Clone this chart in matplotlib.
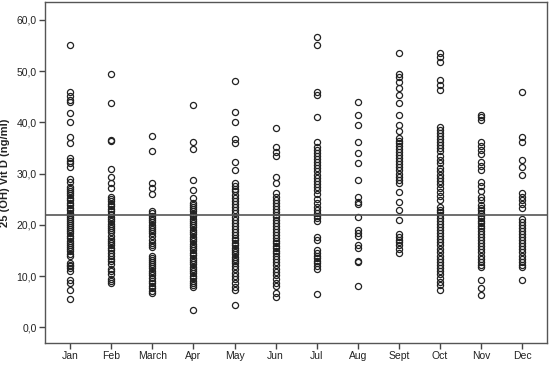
import matplotlib
matplotlib.use("Agg")
import matplotlib.pyplot as plt
from matplotlib.ticker import FuncFormatter

# 25(OH) vitamin D by month of sampling.
months = ["Jan", "Feb", "March", "Apr", "May", "Jun",
          "Jul", "Aug", "Sept", "Oct", "Nov", "Dec"]

jan = [55.1, 46.0, 45.2, 44.4, 44.0, 41.8, 40.0, 37.2, 36.0, 33.0, 32.5, 32.0,
       31.2, 29.0, 28.4, 27.3, 27.0, 26.6, 26.2, 25.8, 25.3, 24.8, 24.3, 23.8,
       23.2, 22.8, 22.3, 22.0, 21.6, 21.2, 20.8, 20.4, 20.0, 19.6, 19.2, 18.8,
       18.3, 17.8, 17.4, 16.9, 16.4, 16.0, 15.6, 15.2, 14.8, 14.3, 13.9, 12.5,
       12.2, 11.9, 11.5, 11.0, 9.2, 8.6, 7.2, 5.5]
feb = [49.4, 43.7, 36.5, 36.3, 30.8, 29.3, 28.2, 27.2, 25.4, 25.0, 24.6, 24.1,
       23.6, 23.1, 22.6, 22.1, 21.6, 21.2, 20.7, 20.2, 19.8, 19.4, 19.0, 18.5,
       17.9, 17.3, 16.9, 16.4, 16.0, 15.5, 15.0, 14.5, 14.0, 13.4, 12.9, 12.4,
       11.4, 10.9, 10.4, 9.5, 9.0, 8.7]
mar = [37.4, 34.4, 28.2, 27.1, 26.0, 22.6, 22.2, 21.8, 21.3, 20.9, 20.5, 20.0,
       19.6, 19.2, 18.8, 18.3, 17.9, 17.0, 16.5, 16.0, 15.6, 14.0, 13.6, 13.2,
       12.8, 12.4, 12.0, 11.5, 11.0, 10.6, 10.1, 9.6, 9.1, 8.6, 8.1, 7.6, 7.1,
       6.7]
apr = [43.3, 36.2, 34.8, 28.8, 26.8, 25.3, 24.3, 23.9, 23.4, 23.0, 22.6, 22.1,
       21.7, 21.2, 20.8, 20.4, 19.9, 19.5, 19.0, 18.6, 18.1, 17.7, 17.2, 16.8,
       16.3, 15.9, 15.4, 15.0, 14.5, 14.1, 13.6, 13.2, 12.7, 12.3, 11.8, 11.4,
       10.9, 10.5, 10.0, 9.6, 9.1, 8.7, 8.2, 7.9, 3.3]
may = [48.0, 42.0, 40.0, 36.7, 36.0, 32.3, 30.7, 28.1, 27.6, 27.0, 26.5, 25.9,
       25.2, 24.6, 24.0, 23.4, 22.8, 22.2, 21.6, 21.0, 20.4, 19.8, 19.2, 18.6,
       18.0, 17.5, 17.0, 16.5, 16.0, 15.5, 15.0, 14.6, 14.2, 13.8, 13.4, 13.0,
       12.5, 11.9, 11.3, 10.6, 10.0, 9.4, 8.6, 7.8, 7.3, 4.4]
jun = [38.8, 35.2, 34.2, 33.5, 29.4, 28.1, 26.2, 25.4, 24.8, 24.2, 23.6, 23.0,
       22.5, 22.0, 21.5, 21.0, 20.4, 19.8, 19.2, 18.6, 18.0, 17.4, 16.9, 16.4,
       15.9, 15.4, 14.9, 14.4, 13.9, 13.3, 12.7, 12.1, 11.4, 10.8, 10.2, 9.5,
       8.6, 8.0, 6.6, 6.0]
jul = [56.7, 55.1, 46.0, 45.3, 41.1, 36.2, 35.2, 34.6, 34.0, 33.4, 32.8, 32.2,
       31.6, 31.0, 30.4, 29.8, 29.2, 28.6, 28.0, 27.4, 26.8, 26.0, 25.0, 24.2,
       23.5, 22.8, 22.3, 21.8, 21.3, 20.8, 17.6, 17.1, 15.0, 14.5, 14.0, 13.5,
       13.0, 12.5, 12.0, 11.3, 6.4]
aug = [44.0, 41.4, 39.5, 36.1, 34.0, 32.1, 28.7, 25.5, 24.5, 24.1, 21.5, 19.0,
       18.3, 17.8, 16.1, 15.5, 13.0, 12.8, 8.0]
sep = [53.5, 49.4, 48.9, 47.8, 46.6, 45.4, 43.7, 41.4, 39.5, 38.2, 36.9, 36.4,
       35.9, 35.4, 34.8, 34.2, 33.6, 33.0, 32.4, 31.8, 31.2, 30.6, 30.0, 29.4,
       28.8, 28.2, 26.4, 24.5, 22.9, 20.9, 18.1, 17.6, 17.1, 16.6, 16.0, 15.2,
       14.5]
oct_ = [53.6, 52.7, 51.8, 48.3, 47.3, 46.2, 39.1, 38.4, 37.9, 37.3, 36.7, 36.1,
        35.5, 34.9, 34.3, 33.5, 32.7, 32.0, 31.0, 30.4, 29.8, 29.2, 28.6, 28.0,
        27.2, 26.4, 25.6, 24.9, 23.4, 22.9, 22.4, 21.9, 21.4, 20.8, 20.2, 19.6,
        19.0, 18.4, 17.8, 17.2, 16.6, 16.0, 15.2, 14.6, 14.0, 13.4, 12.8, 12.2,
        11.6, 11.0, 10.3, 9.6, 8.9, 8.2, 7.2]
nov = [41.5, 41.0, 40.4, 36.2, 35.4, 34.6, 33.9, 32.3, 31.5, 30.7, 28.4, 27.6,
       26.5, 25.5, 24.8, 23.8, 23.3, 22.8, 22.3, 21.8, 21.3, 20.8, 20.3, 19.8,
       19.3, 18.8, 18.2, 17.6, 17.0, 16.4, 15.8, 15.2, 14.6, 14.0, 13.4, 12.8,
       12.2, 11.8, 9.2, 7.7, 6.3]
dec = [46.0, 37.1, 36.2, 32.7, 31.3, 29.7, 26.2, 25.5, 24.8, 24.0, 23.2, 21.2,
       20.6, 20.0, 19.4, 18.8, 18.2, 17.6, 17.0, 16.4, 15.8, 15.2, 14.6, 14.0,
       13.4, 12.8, 12.2, 11.8, 9.3]

by_month = [jan, feb, mar, apr, may, jun, jul, aug, sep, oct_, nov, dec]
ref_level = 22.0

plt.rcParams["font.family"] = ["Liberation Sans", "DejaVu Sans"]

fig = plt.figure(figsize=(5.5, 3.67), dpi=100)
ax = fig.add_axes([0.082, 0.065, 0.913, 0.93])

for i, vals in enumerate(by_month, start=1):
    ax.plot([i] * len(vals), vals, "o", markersize=4.4, markerfacecolor="none",
            markeredgecolor="#222222", markeredgewidth=0.9, linestyle="none")

ax.axhline(ref_level, color="#555555", linewidth=1.2, zorder=3)

ax.set_xlim(0.39, 12.61)
ax.set_ylim(-3.1, 63.5)
ax.set_xticks(range(1, 13))
ax.set_xticklabels(months)
ax.set_yticks(range(0, 61, 10))
ax.yaxis.set_major_formatter(FuncFormatter(lambda v, _: f"{v:.1f}".replace(".", ",")))
ax.tick_params(direction="out", length=4, width=1, color="#444444",
               labelsize=7.5, labelcolor="#222222", pad=2)
for sp in ax.spines.values():
    sp.set_color("#555555")
    sp.set_linewidth(1)

ax.set_ylabel("25 (OH) Vit D (ng/ml)", fontsize=8, fontweight="bold",
              color="#222222")
ax.yaxis.set_label_coords(-0.07, 0.5)

fig.savefig("out.png", dpi=100)
